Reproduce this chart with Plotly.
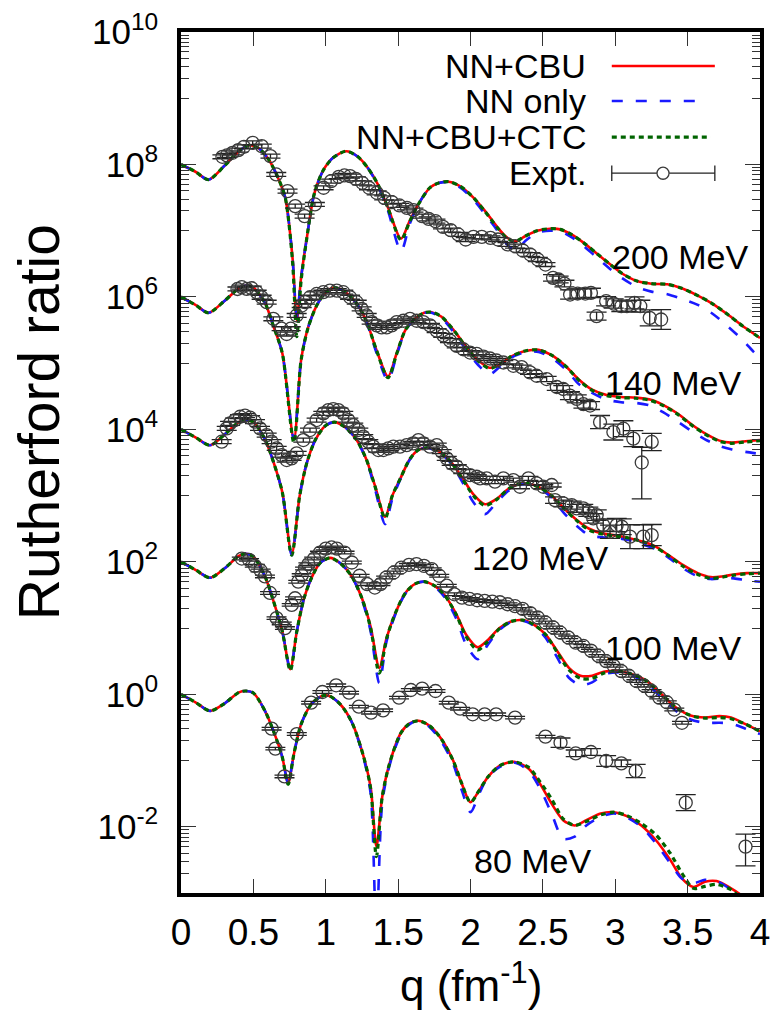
import plotly.graph_objects as go

# ---------------- data (log10 of Rutherford ratio, before the per-energy offset) ----------------
energies = ["80 MeV", "100 MeV", "120 MeV", "140 MeV", "200 MeV"]
offset_dec = [0, 2, 4, 6, 8]   # curves shifted by 10^offset

# ---- 80 MeV theory
qt80 = [0,0.1,0.2,0.3,0.4, 0.45,0.5,0.58,0.65,0.7, 0.74,0.78,0.83,0.9,0.97, 1.02,1.1,1.18,1.26,1.31,
        1.35,1.39,1.44,1.52,1.58, 1.64,1.72,1.8,1.88,1.94, 2.0,2.06,2.12,2.2,2.3, 2.4,2.48,2.56,2.64,2.72,
        2.8,2.9,2.99,3.08,3.18, 3.28,3.38,3.46,3.54,3.62, 3.7,3.8,3.88,3.95]
red80 = [0,-0.12,-0.25,-0.14,0.03, 0.05,0.02,-0.25,-0.62,-0.95, -1.34,-0.9,-0.45,-0.15,-0.03, -0.02,-0.15,-0.42,-0.93,-1.4,
         -2.3,-1.55,-1.05,-0.58,-0.44, -0.40,-0.48,-0.68,-1.0,-1.35, -1.63,-1.45,-1.25,-1.08,-1.02, -1.12,-1.35,-1.65,-1.9,-1.98,
         -1.9,-1.8,-1.78,-1.84,-1.98, -2.2,-2.5,-2.78,-2.91,-2.83, -2.82,-2.93,-3.05,-3.2]
blue80 = [0,-0.12,-0.25,-0.14,0.03, 0.05,0.02,-0.25,-0.62,-0.95, -1.34,-0.9,-0.45,-0.15,-0.03, -0.02,-0.15,-0.42,-0.95,-1.5,
          -3.6,-1.65,-1.08,-0.6,-0.45, -0.40,-0.5,-0.72,-1.05,-1.45, -1.78,-1.5,-1.25,-1.1,-1.03, -1.15,-1.42,-1.8,-2.18,-2.15,
          -1.98,-1.85,-1.8,-1.86,-2.0, -2.25,-2.55,-2.78,-2.85,-2.8, -2.82,-2.95,-3.1,-3.3]
green80 = [0,-0.12,-0.25,-0.14,0.03, 0.05,0.02,-0.25,-0.62,-0.95, -1.36,-0.9,-0.45,-0.15,-0.03, -0.02,-0.15,-0.42,-0.93,-1.42,
           -2.45,-1.55,-1.05,-0.58,-0.44, -0.40,-0.48,-0.68,-1.0,-1.35, -1.63,-1.45,-1.25,-1.08,-1.02, -1.1,-1.32,-1.58,-1.88,-1.98,
           -1.92,-1.82,-1.78,-1.83,-1.95, -2.12,-2.4,-2.7,-2.93,-2.9, -2.87,-2.95,-3.1,-3.2]

# ---- 100 MeV theory
qt100 = [0,0.1,0.2,0.3,0.4, 0.45,0.5,0.58,0.64,0.7, 0.755,0.8,0.85,0.9,0.96, 1.03,1.1,1.18,1.25,1.31,
         1.37,1.42,1.48,1.55,1.62, 1.68,1.75,1.82,1.9,1.97, 2.05,2.12,2.2,2.28,2.36, 2.44,2.52,2.6,2.68,2.76,
         2.84,2.92,3.02,3.12,3.22, 3.32,3.42,3.52,3.62,3.72, 3.8,3.9,4.0]
red100 = [0,-0.12,-0.24,-0.1,0.09, 0.12,0.08,-0.22,-0.6,-1.05, -1.62,-1.05,-0.55,-0.25,-0.02, 0.06,-0.02,-0.22,-0.55,-0.98,
          -1.6,-1.15,-0.78,-0.47,-0.33, -0.30,-0.36,-0.5,-0.78,-1.1, -1.29,-1.18,-1.0,-0.9,-0.88, -0.95,-1.1,-1.35,-1.6,-1.72,
          -1.72,-1.66,-1.65,-1.7,-1.8, -2.0,-2.2,-2.32,-2.35,-2.33, -2.35,-2.45,-2.56]
blue100 = [0,-0.12,-0.24,-0.1,0.09, 0.12,0.08,-0.22,-0.6,-1.05, -1.62,-1.05,-0.55,-0.25,-0.02, 0.06,-0.02,-0.22,-0.57,-1.05,
           -1.83,-1.2,-0.8,-0.48,-0.33, -0.30,-0.37,-0.53,-0.85,-1.25, -1.47,-1.25,-1.03,-0.91,-0.89, -0.97,-1.15,-1.45,-1.75,-1.86,
           -1.82,-1.7,-1.67,-1.72,-1.85, -2.05,-2.25,-2.38,-2.43,-2.43, -2.44,-2.52,-2.6]
green100 = [0,-0.12,-0.24,-0.1,0.09, 0.12,0.08,-0.22,-0.6,-1.05, -1.64,-1.05,-0.55,-0.25,-0.02, 0.06,-0.02,-0.22,-0.55,-1.0,
            -1.68,-1.16,-0.78,-0.47,-0.33, -0.30,-0.36,-0.5,-0.79,-1.13, -1.33,-1.2,-1.01,-0.9,-0.88, -0.95,-1.1,-1.37,-1.63,-1.76,
            -1.76,-1.68,-1.65,-1.7,-1.8, -2.0,-2.2,-2.32,-2.36,-2.35, -2.37,-2.45,-2.56]

# ---- 120 MeV theory
qt120 = [0,0.1,0.2,0.3,0.4, 0.45,0.5,0.58,0.64,0.7, 0.765,0.82,0.87,0.93,1.0, 1.06,1.13,1.21,1.28,1.34,
         1.41,1.46,1.52,1.58,1.64, 1.70,1.78,1.86,1.94,2.02, 2.1,2.18,2.26,2.33,2.4, 2.48,2.56,2.64,2.73,2.82,
         2.91,3.0,3.09,3.18,3.27, 3.37,3.47,3.57,3.66,3.74, 3.82,3.91,4.0]
red120 = [0,-0.12,-0.24,-0.08,0.11, 0.14,0.11,-0.15,-0.5,-0.95, -1.88,-1.0,-0.5,-0.15,0.06, 0.11,0.04,-0.15,-0.45,-0.85,
          -1.32,-1.0,-0.72,-0.45,-0.31, -0.28,-0.33,-0.48,-0.72,-0.98, -1.13,-1.05,-0.9,-0.83,-0.82, -0.88,-1.0,-1.18,-1.36,-1.5,
          -1.57,-1.6,-1.64,-1.69,-1.76, -1.9,-2.05,-2.17,-2.23,-2.22, -2.19,-2.17,-2.17]
blue120 = [0,-0.12,-0.24,-0.08,0.11, 0.14,0.11,-0.15,-0.5,-0.95, -1.9,-1.0,-0.5,-0.15,0.06, 0.11,0.04,-0.15,-0.46,-0.9,
           -1.43,-1.05,-0.73,-0.46,-0.31, -0.28,-0.34,-0.5,-0.78,-1.1, -1.28,-1.1,-0.93,-0.84,-0.83, -0.9,-1.03,-1.25,-1.45,-1.6,
           -1.63,-1.64,-1.67,-1.73,-1.8, -1.94,-2.1,-2.22,-2.26,-2.25, -2.25,-2.28,-2.3]
green120 = [0,-0.12,-0.24,-0.08,0.11, 0.14,0.11,-0.15,-0.5,-0.95, -1.9,-1.0,-0.5,-0.15,0.06, 0.11,0.04,-0.15,-0.45,-0.86,
            -1.34,-1.0,-0.72,-0.45,-0.31, -0.28,-0.33,-0.48,-0.73,-1.0, -1.15,-1.06,-0.9,-0.83,-0.82, -0.88,-1.0,-1.18,-1.37,-1.52,
            -1.58,-1.61,-1.64,-1.69,-1.77, -1.91,-2.07,-2.19,-2.25,-2.23, -2.2,-2.18,-2.17]

# ---- 140 MeV theory
qt140 = [0,0.1,0.19,0.3,0.4, 0.45,0.5,0.58,0.64,0.7, 0.78,0.83,0.88,0.94,1.0, 1.06,1.13,1.21,1.28,1.35,
         1.43,1.49,1.55,1.62,1.68, 1.73,1.8,1.89,1.97,2.05, 2.13,2.2,2.28,2.37,2.47, 2.56,2.66,2.75,2.84,2.94,
         3.04,3.14,3.24,3.33,3.43, 3.53,3.62,3.72,3.8,3.9, 4.0]
red140 = [0,-0.12,-0.24,-0.06,0.13, 0.17,0.14,-0.09,-0.45,-0.85, -2.15,-0.95,-0.45,-0.12,0.07, 0.14,0.08,-0.09,-0.36,-0.8,
          -1.2,-0.85,-0.5,-0.32,-0.24, -0.23,-0.3,-0.52,-0.75,-0.95, -1.07,-1.02,-0.9,-0.82,-0.8, -0.88,-1.05,-1.25,-1.4,-1.48,
          -1.51,-1.52,-1.55,-1.63,-1.76, -1.93,-2.06,-2.17,-2.2,-2.18, -2.16]
blue140 = [0,-0.12,-0.24,-0.06,0.13, 0.17,0.14,-0.09,-0.45,-0.85, -2.15,-0.95,-0.45,-0.12,0.07, 0.14,0.08,-0.09,-0.37,-0.84,
           -1.26,-0.88,-0.51,-0.32,-0.24, -0.24,-0.32,-0.55,-0.8,-1.02, -1.17,-1.06,-0.92,-0.84,-0.83, -0.92,-1.1,-1.32,-1.45,-1.55,
           -1.59,-1.6,-1.64,-1.74,-1.88, -2.03,-2.15,-2.25,-2.3,-2.34, -2.37]
green140 = [0,-0.12,-0.24,-0.06,0.13, 0.17,0.14,-0.09,-0.45,-0.85, -2.2,-0.95,-0.45,-0.12,0.07, 0.14,0.08,-0.09,-0.36,-0.8,
            -1.22,-0.86,-0.5,-0.32,-0.24, -0.23,-0.3,-0.52,-0.76,-0.96, -1.08,-1.02,-0.9,-0.82,-0.8, -0.88,-1.05,-1.26,-1.41,-1.49,
            -1.52,-1.53,-1.56,-1.64,-1.77, -1.94,-2.07,-2.18,-2.21,-2.19, -2.17]

# ---- 200 MeV theory
qt200 = [0,0.1,0.19,0.3,0.4, 0.47,0.54,0.61,0.67,0.72, 0.77,0.8,0.83,0.87,0.92, 0.98,1.05,1.14,1.22,1.29,
         1.36,1.43,1.52,1.58,1.64, 1.72,1.78,1.85,1.93,2.02, 2.1,2.18,2.25,2.31,2.38, 2.46,2.55,2.62,2.7,2.78,
         2.87,2.96,3.05,3.15,3.25, 3.36,3.46,3.57,3.67,3.78, 3.88,3.96,4.0]
red200 = [0,-0.11,-0.23,-0.02,0.2, 0.29,0.24,0.06,-0.2,-0.5, -1.4,-2.35,-1.7,-1.1,-0.45, -0.1,0.1,0.2,0.12,-0.05,
          -0.3,-0.65,-1.12,-0.85,-0.6, -0.35,-0.28,-0.26,-0.33,-0.5, -0.7,-0.93,-1.1,-1.16,-1.08, -1.0,-0.97,-0.98,-1.06,-1.18,
          -1.34,-1.5,-1.65,-1.76,-1.8, -1.81,-1.87,-1.98,-2.1,-2.27, -2.44,-2.56,-2.62]
blue200 = [0,-0.11,-0.23,-0.02,0.2, 0.29,0.24,0.06,-0.2,-0.5, -1.4,-2.3,-1.7,-1.1,-0.45, -0.1,0.1,0.2,0.12,-0.05,
           -0.32,-0.7,-1.31,-0.9,-0.6, -0.35,-0.28,-0.27,-0.35,-0.53, -0.75,-0.98,-1.2,-1.3,-1.15, -1.03,-1.0,-1.01,-1.1,-1.23,
           -1.4,-1.57,-1.72,-1.85,-1.92, -1.96,-2.03,-2.12,-2.25,-2.45, -2.65,-2.84,-2.92]
green200 = [0,-0.11,-0.23,-0.02,0.2, 0.29,0.24,0.06,-0.2,-0.5, -1.45,-2.6,-1.75,-1.1,-0.45, -0.1,0.1,0.2,0.12,-0.05,
            -0.3,-0.66,-1.14,-0.86,-0.6, -0.35,-0.28,-0.26,-0.33,-0.5, -0.71,-0.94,-1.11,-1.16,-1.08, -1.0,-0.97,-0.98,-1.06,-1.18,
            -1.34,-1.5,-1.65,-1.76,-1.8, -1.81,-1.87,-1.98,-2.1,-2.27, -2.44,-2.56,-2.62]

# ---- Experimental data: q, log10(ratio), error (dex) up / down
q80 = [0.626,0.652,0.715,0.80,0.899,0.977,1.072,1.161,1.229,1.313,1.396,1.506,1.588,1.666,1.758,
       1.85,1.928,2.015,2.098,2.177,2.308,2.518,2.622,2.727,2.832,2.937,3.042,3.141,3.487,3.90]
lg80 = [-0.519,-0.82,-1.24,-0.60,-0.126,0.035,0.136,0.025,-0.186,-0.277,-0.242,-0.05,0.065,0.086,0.05,
        -0.126,-0.217,-0.302,-0.302,-0.302,-0.352,-0.639,-0.73,-0.891,-0.871,-1.007,-1.042,-1.158,-1.636,-2.30]
eu80 = [0.02]*21 + [0.02,0.07,0.05,0.05,0.08,0.05,0.10,0.12,0.19]
ed80 = [0.02]*21 + [0.02,0.07,0.05,0.05,0.08,0.05,0.10,0.12,0.29]

q100 = [0.42,0.47,0.51,0.55,0.58,0.615,0.66,0.696,0.718,0.765,0.788,0.81,0.834,0.857,0.88,0.92,0.96,1.0,1.04,1.077,
        1.13,1.18,1.234,1.286,1.339,1.378,1.417,1.47,1.522,1.575,1.627,1.679,1.732,1.784,1.836,1.889,1.941,1.994,2.046,2.098,
        2.151,2.203,2.256,2.308,2.36,2.413,2.465,2.518,2.57,2.622,2.675,2.727,2.78,2.832,2.884,2.937,2.989,3.042,3.094,3.146,
        3.199,3.251,3.304,3.356,3.408,3.461]
lg100 = [0.05,0.03,-0.06,-0.13,-0.22,-0.47,-0.85,-0.93,-1.0,-0.65,-0.55,-0.30,-0.20,-0.10,-0.035,0.05,0.14,0.2,0.217,0.2,
         0.14,-0.01,-0.21,-0.337,-0.388,-0.337,-0.237,-0.161,-0.086,-0.045,-0.035,-0.06,-0.11,-0.21,-0.36,-0.49,-0.54,-0.56,-0.58,-0.59,
         -0.60,-0.61,-0.64,-0.67,-0.71,-0.775,-0.84,-0.916,-0.99,-1.07,-1.14,-1.22,-1.27,-1.34,-1.42,-1.50,-1.57,-1.65,-1.72,-1.80,
         -1.87,-1.95,-2.05,-2.12,-2.23,-2.43]
eu100 = [0.02]*66
ed100 = [0.02]*66

q120 = [0.281,0.316,0.339,0.373,0.408,0.442,0.477,0.511,0.546,0.592,0.626,0.661,0.695,0.730,0.764,
        0.799,0.845,0.891,0.937,0.983,1.018,1.052,1.087,1.121,1.156,1.190,1.225,1.259,1.294,1.329,
        1.363,1.398,1.432,1.467,1.513,1.559,1.605,1.640,1.674,1.720,1.767,1.801,1.836,1.870,1.905,
        1.950,1.997,2.043,2.066,2.112,2.169,2.227,2.296,2.342,2.40,2.457,2.503,2.561,2.584,2.641,
        2.699,2.734,2.779,2.814,2.848,2.872,2.917,2.964,3.01,3.045,3.102,3.194,3.252]
lg120 = [-0.186,0.015,0.091,0.141,0.191,0.207,0.177,0.116,0.015,-0.086,-0.186,-0.287,-0.388,-0.463,-0.438,
         -0.363,-0.161,-0.01,0.141,0.242,0.292,0.307,0.292,0.242,0.141,0.065,-0.01,-0.11,-0.186,-0.261,
         -0.312,-0.312,-0.287,-0.261,-0.261,-0.237,-0.211,-0.161,-0.211,-0.261,-0.237,-0.337,-0.438,-0.514,-0.564,
         -0.639,-0.69,-0.715,-0.74,-0.74,-0.79,-0.74,-0.766,-0.866,-0.74,-0.816,-0.866,-0.84,-1.068,-1.118,
         -1.143,-1.193,-1.193,-1.244,-1.344,-1.294,-1.445,-1.546,-1.445,-1.47,-1.62,-1.62,-1.596]
eu120 = [0.03]*58 + [0.05,0.05,0.06,0.06,0.06,0.07,0.07,0.08,0.09,0.10,0.10,0.12,0.18,0.18,0.16]
ed120 = eu120

q140 = [0.39,0.42,0.454,0.488,0.523,0.557,0.592,0.638,0.695,0.73,
        0.758,0.799,0.834,0.857,0.891,0.937,0.983,1.029,1.076,1.121,
        1.168,1.214,1.248,1.283,1.317,1.352,1.386,1.421,1.456,1.49,
        1.536,1.582,1.628,1.674,1.72,1.766,1.812,1.858,1.905,1.95,
        1.997,2.043,2.09,2.135,2.18,2.227,2.296,2.353,2.411,2.457,
        2.526,2.596,2.641,2.687,2.734,2.78,2.826,2.895,2.987,3.056,
        3.125,3.183,3.252]
lg140 = [0.12,0.147,0.121,0.131,0.071,-0.005,-0.08,-0.33,-0.48,-0.56,
         -0.48,-0.28,-0.13,-0.08,-0.005,0.045,0.071,0.095,0.095,0.071,
         -0.005,-0.08,-0.18,-0.28,-0.38,-0.43,-0.46,-0.46,-0.43,-0.38,
         -0.36,-0.33,-0.36,-0.38,-0.43,-0.51,-0.58,-0.66,-0.74,-0.79,
         -0.84,-0.86,-0.90,-0.93,-0.96,-0.99,-1.04,-1.06,-1.14,-1.19,
         -1.24,-1.36,-1.39,-1.49,-1.54,-1.62,-1.64,-1.89,-2.04,-1.99,
         -2.14,-2.50,-2.19]
eu140 = [0.03]*50 + [0.04,0.05,0.05,0.06,0.06,0.06,0.06,0.10,0.12,0.12,0.12,0.23,0.13]
ed140 = [0.03]*50 + [0.04,0.05,0.05,0.06,0.06,0.06,0.06,0.10,0.12,0.12,0.12,0.55,0.13]

q200 = [0.286,0.317,0.356,0.396,0.435,0.495,0.558,0.618,0.658,0.736,0.789,0.854,0.925,0.985,1.037,
        1.090,1.129,1.168,1.208,1.252,1.299,1.352,1.404,1.457,1.509,1.561,1.606,1.666,1.711,1.758,
        1.810,1.863,1.915,1.967,2.020,2.078,2.138,2.190,2.256,2.308,2.361,2.413,2.465,2.518,2.570,
        2.609,2.649,2.688,2.740,2.793,2.832,2.871,2.937,2.989,3.042,3.081,3.133,3.173,3.238,3.317]
lg200 = [0.116,0.136,0.176,0.217,0.267,0.327,0.277,0.126,-0.151,-0.403,-0.629,-0.78,-0.604,-0.352,-0.252,
         -0.186,-0.166,-0.176,-0.217,-0.277,-0.352,-0.428,-0.504,-0.569,-0.619,-0.655,-0.69,-0.78,-0.821,-0.856,
         -0.942,-0.992,-1.057,-1.133,-1.093,-1.093,-1.108,-1.133,-1.208,-1.234,-1.299,-1.36,-1.435,-1.511,-1.712,
         -1.737,-1.798,-1.964,-1.949,-1.949,-1.939,-2.291,-2.064,-2.10,-2.14,-2.14,-2.09,-2.14,-2.316,-2.341]
eu200 = [0.03]*44 + [0.05,0.05,0.05,0.07,0.07,0.07,0.07,0.06,0.07,0.07,0.08,0.08,0.09,0.09,0.12,0.15]
ed200 = eu200

# axis tick labels
ytick_exp = [-2, 0, 2, 4, 6, 8, 10]
xtick_vals = [0, 0.5, 1, 1.5, 2, 2.5, 3, 3.5, 4]
xtick_text = ["0", "0.5", "1", "1.5", "2", "2.5", "3", "3.5", "4"]

# ---------------- figure ----------------
FONT = "Liberation Sans, Arial, Helvetica, sans-serif"
RED, BLUE, GREEN, BLK = "#ff0000", "#1a1aff", "#006400", "#222222"

theory = [
    (qt80, red80, blue80, green80),
    (qt100, red100, blue100, green100),
    (qt120, red120, blue120, green120),
    (qt140, red140, blue140, green140),
    (qt200, red200, blue200, green200),
]
expt = [
    (q80, lg80, eu80, ed80),
    (q100, lg100, eu100, ed100),
    (q120, lg120, eu120, ed120),
    (q140, lg140, eu140, ed140),
    (q200, lg200, eu200, ed200),
]

fig = go.Figure()

def scaled(vals, off):
    return [10 ** (v + off) for v in vals]

styles = [
    (1, RED, 2.6, "solid"),
    (2, BLUE, 2.6, "11px,13px"),
    (3, GREEN, 3.2, "5px,4px"),
]
for idx, color, width, dash in styles:
    for (tq, *curves), off in zip(theory, offset_dec):
        fig.add_trace(go.Scatter(
            x=tq, y=scaled(curves[idx - 1], off), mode="lines",
            line=dict(color=color, width=width, dash=dash, shape="spline", smoothing=0.8),
            showlegend=False, hoverinfo="skip"))

for (eq, elg, eu, ed), off in zip(expt, offset_dec):
    yv = scaled(elg, off)
    plus = [y * (10 ** u - 1) for y, u in zip(yv, eu)]
    minus = [y * (1 - 10 ** (-d)) for y, d in zip(yv, ed)]
    fig.add_trace(go.Scatter(
        x=eq, y=yv, mode="markers",
        marker=dict(symbol="circle-open", size=13, color="#3a3a3a", line=dict(width=1.3)),
        error_y=dict(type="data", array=plus, arrayminus=minus, symmetric=False,
                     color=BLK, thickness=1.3, width=10),
        showlegend=False))

# minor ticks (gnuplot style: 10^(2k+1) * 1..9)
minor_vals = []
for k in range(-2, 5):
    base = 10 ** (2 * k + 1)
    for m in range(1, 10):
        v = m * base
        if 1e-3 <= v <= 1e10:
            minor_vals.append(v)
minor_vals += [m * 1e-3 for m in range(2, 10)]

fig.update_xaxes(
    range=[0, 4], tickmode="array", tickvals=xtick_vals, ticktext=xtick_text,
    ticks="inside", ticklen=14, tickwidth=1.3, tickcolor="#333",
    showline=True, linecolor="black", linewidth=3.5, mirror="ticks",
    showgrid=False, zeroline=False, automargin=False, ticklabeloverflow="allow",
    tickfont=dict(family=FONT, size=37, color="black"), ticklabelstandoff=4,
)
fig.update_yaxes(
    type="log", range=[-3, 10], tickmode="array",
    tickvals=[10 ** e for e in ytick_exp],
    ticktext=["10<sup>%d</sup>" % e for e in ytick_exp],
    ticks="inside", ticklen=15, tickwidth=1.3, tickcolor="#333",
    minor=dict(tickmode="array", tickvals=minor_vals, ticks="inside", ticklen=8, tickwidth=1.2, tickcolor="#333"),
    showline=True, linecolor="black", linewidth=3.5, mirror="ticks",
    showgrid=False, zeroline=False, automargin=False, ticklabeloverflow="allow",
    tickfont=dict(family=FONT, size=35, color="black"), ticklabelstandoff=12,
)

annotations = []
# axis titles
annotations.append(dict(text="q (fm<sup>-1</sup>)", x=0.5, y=-0.1035, xref="paper", yref="paper",
                        xanchor="center", yanchor="middle", showarrow=False,
                        font=dict(family=FONT, size=44, color="black")))
annotations.append(dict(text="Rutherford ratio", x=-0.245, y=0.547, xref="paper", yref="paper",
                        xanchor="center", yanchor="middle", showarrow=False, textangle=-90,
                        font=dict(family=FONT, size=57, color="black")))

# ---------- energy labels ----------
label_pos = [(0.7116, 0.037), (0.9706, 0.2846), (0.741, 0.389), (0.9706, 0.5923), (0.983, 0.7387)]
for txt, (xp, yp) in zip(energies, label_pos):
    annotations.append(dict(text=txt, x=xp, y=yp, xref="paper", yref="paper",
                            xanchor="right", yanchor="middle", showarrow=False,
                            font=dict(family=FONT, size=34, color="black")))

# ---------- legend (gnuplot style: text then sample) ----------
leg_text = ["NN+CBU", "NN only", "NN+CBU+CTC", "Expt."]
leg_y = [0.9605, 0.9199, 0.878, 0.836]
for txt, yp in zip(leg_text, leg_y):
    annotations.append(dict(text=txt, x=0.703, y=yp, xref="paper", yref="paper",
                            xanchor="right", yanchor="middle", showarrow=False,
                            font=dict(family=FONT, size=34, color="black")))
x0, x1 = 0.744, 0.922
shapes = [
    dict(type="line", xref="paper", yref="paper", x0=x0, x1=x1, y0=leg_y[0], y1=leg_y[0],
         line=dict(color=RED, width=2.6)),
    dict(type="line", xref="paper", yref="paper", x0=x0, x1=0.905, y0=leg_y[1], y1=leg_y[1],
         line=dict(color=BLUE, width=2.6, dash="11px,13px")),
    dict(type="line", xref="paper", yref="paper", x0=x0, x1=0.915, y0=leg_y[2], y1=leg_y[2],
         line=dict(color=GREEN, width=3.2, dash="5px,4px")),
    dict(type="line", xref="paper", yref="paper", x0=x0, x1=x1, y0=leg_y[3], y1=leg_y[3],
         line=dict(color=BLK, width=1.3)),
    dict(type="line", xref="paper", yref="paper", x0=x0, x1=x0, y0=leg_y[3] - 0.009, y1=leg_y[3] + 0.009,
         line=dict(color=BLK, width=1.3)),
    dict(type="line", xref="paper", yref="paper", x0=x1, x1=x1, y0=leg_y[3] - 0.009, y1=leg_y[3] + 0.009,
         line=dict(color=BLK, width=1.3)),
    dict(type="circle", xref="paper", yref="paper", x0=0.8325 - 0.0104, x1=0.8325 + 0.0104,
         y0=leg_y[3] - 0.007, y1=leg_y[3] + 0.007, fillcolor="white",
         line=dict(color="#3a3a3a", width=1.3)),
]

# page body has an 8px default margin, so the figure is 8px smaller and margins shifted
fig.update_layout(
    width=772, height=1005,
    margin=dict(l=173, r=20, t=24, b=120),
    paper_bgcolor="white", plot_bgcolor="white",
    annotations=annotations, shapes=shapes,
    showlegend=False,
)

fig.write_html("out.html")
